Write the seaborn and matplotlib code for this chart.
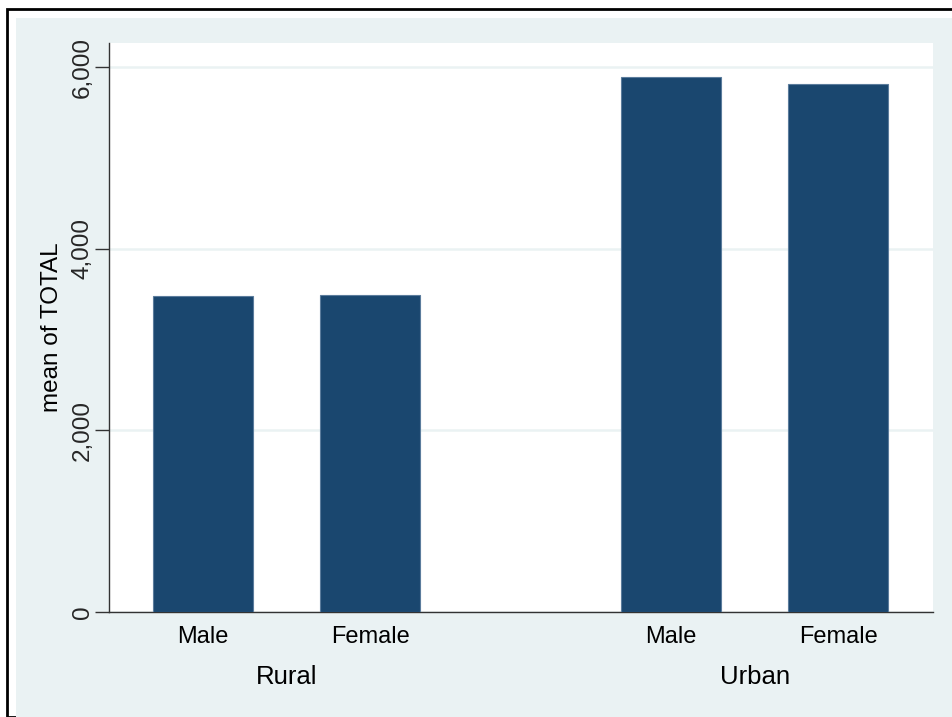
import matplotlib
matplotlib.use("Agg")
import matplotlib.pyplot as plt
import seaborn as sns
import pandas as pd
from matplotlib.patches import Rectangle
from matplotlib.ticker import FuncFormatter
import matplotlib.transforms as mtransforms

area = ["Rural", "Rural", "Urban", "Urban"]
sex = ["Male", "Female", "Male", "Female"]
total_mean = [3476, 3493, 5887, 5810]

df = pd.DataFrame({"area": area, "sex": sex, "total": total_mean})

sns.set_theme(style="white")
plt.rcParams["font.family"] = ["Liberation Sans", "DejaVu Sans"]

W, H = 953, 717
fig = plt.figure(figsize=(W / 100, H / 100), dpi=100)
fig.patch.set_facecolor("white")
# outer frame + background
fig.patches.append(Rectangle((7 / W, 0), 2, 1 - 9 / H, transform=fig.transFigure,
                             facecolor="white", edgecolor="black", linewidth=2, zorder=-2))
fig.patches.append(Rectangle((16 / W, 0), 2, 1 - 18 / H, transform=fig.transFigure,
                             facecolor="#EAF2F3", edgecolor="none", zorder=-1))

ax = fig.add_axes([109 / W, 1 - 612 / H, (933 - 109) / W, (612 - 43) / H])
ax.set_zorder(2)
ax.set_facecolor("white")

sns.barplot(data=df, x="area", y="total", hue="sex", order=["Rural", "Urban"],
            hue_order=["Male", "Female"], palette=["#1A476F", "#1A476F"],
            saturation=1, width=0.714, gap=0.4, errorbar=None, legend=False, ax=ax,
            edgecolor="#5B7C9C", linewidth=0.8, zorder=3)

ax.set_ylim(0, 6266)
ax.set_xlim(-0.379, 1.381)
ax.set_yticks([0, 2000, 4000, 6000])
ax.yaxis.set_major_formatter(FuncFormatter(lambda v, p: f"{int(v):,}"))
ax.grid(axis="y", color="#EAF2F3", linewidth=1.8, zorder=0)
ax.set_axisbelow(True)

for s in ["top", "right"]:
    ax.spines[s].set_visible(False)
for s in ["left", "bottom"]:
    ax.spines[s].set_color("#333333")
    ax.spines[s].set_linewidth(1.0)

ax.tick_params(axis="y", which="major", left=True, length=10, width=1, color="#333333",
               labelsize=17.5, pad=1)
for lbl in ax.get_yticklabels():
    lbl.set_rotation(90)
    lbl.set_va("center")

# Sex labels at bar centres
centers = []
labels = []
patches = sorted([p for p in ax.patches if p.get_height() > 0], key=lambda p: p.get_x())
sex_sorted = ["Male", "Female", "Male", "Female"]
for p, s in zip(patches, sex_sorted):
    centers.append(p.get_x() + p.get_width() / 2)
    labels.append(s)
ax.set_xticks(centers)
ax.set_xticklabels(labels, fontsize=17, color="black")
ax.tick_params(axis="x", bottom=False, pad=4)

trans = mtransforms.blended_transform_factory(ax.transData, ax.transAxes)
for i, g in enumerate(["Rural", "Urban"]):
    ax.text(i, -(677 - 612) / (612 - 43), g, transform=trans, ha="center", va="center",
            fontsize=18.5, color="black")

ax.set_xlabel("")
ax.set_ylabel("mean of TOTAL", fontsize=17.5, color="black", labelpad=6)

fig.savefig("out.png", dpi=100)
